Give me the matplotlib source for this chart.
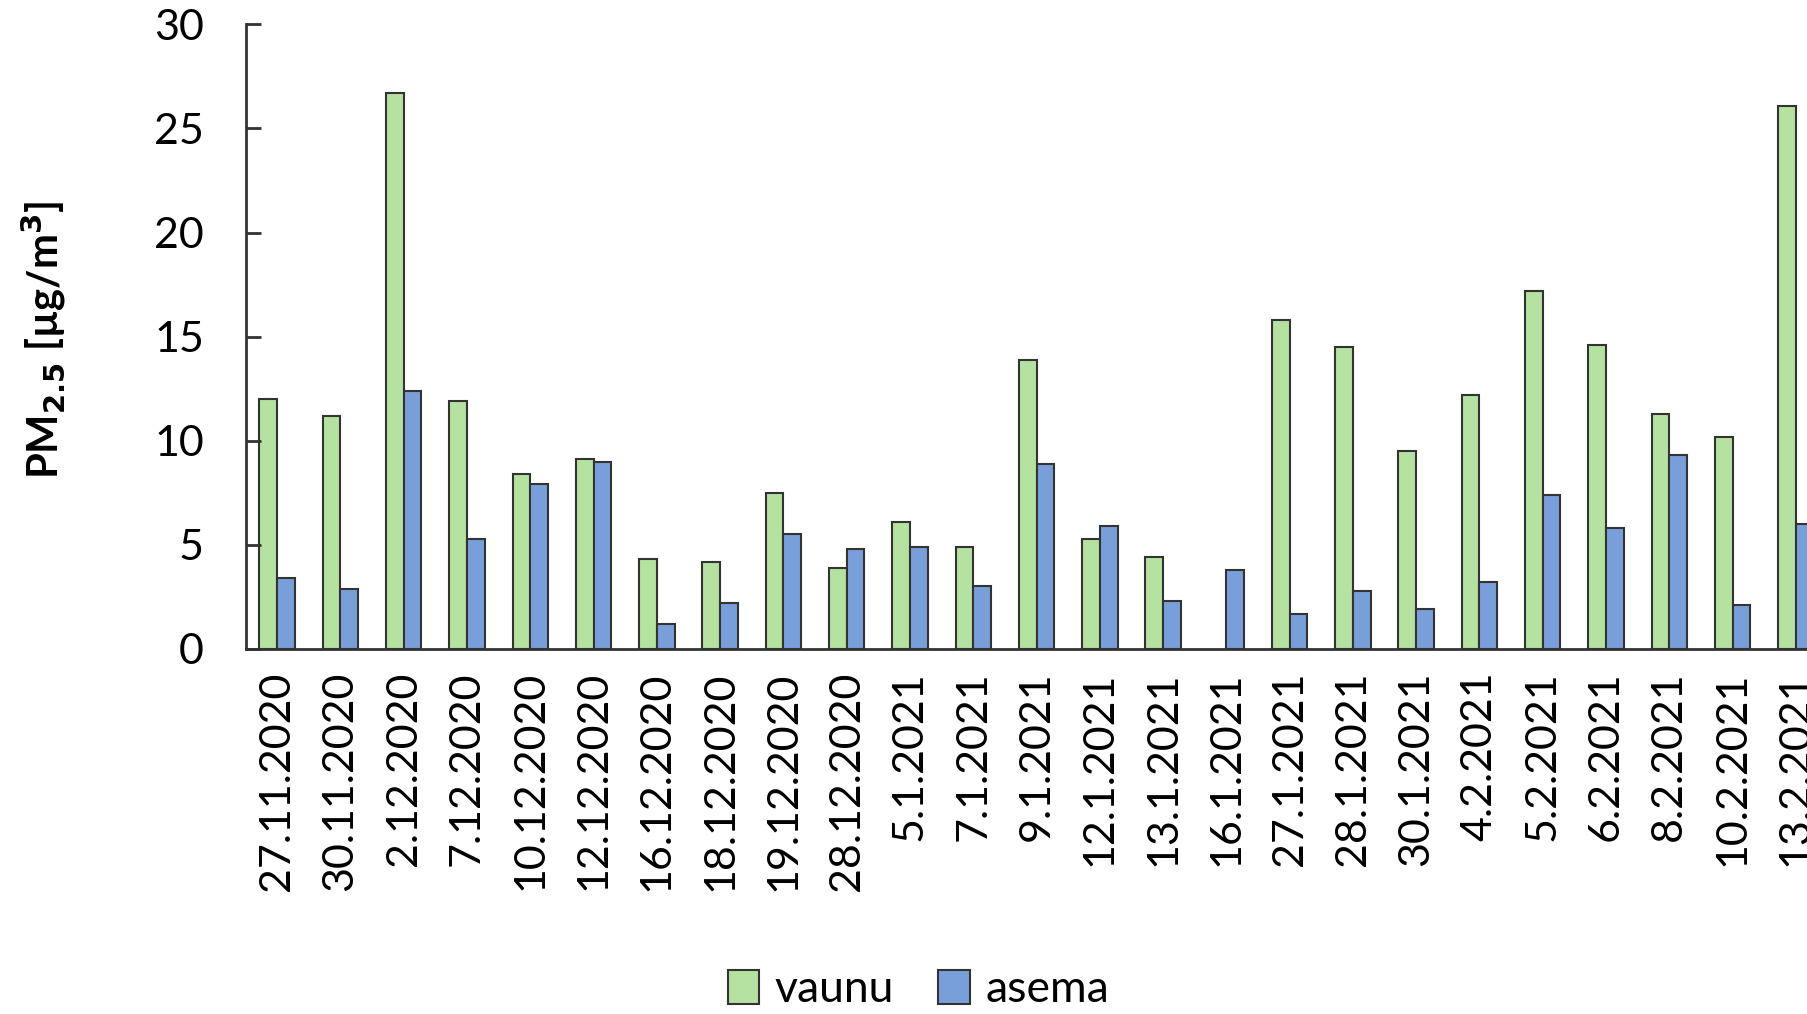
import numpy as np
import matplotlib
matplotlib.use("Agg")
import matplotlib.pyplot as plt
from matplotlib.patches import Patch

dates = ["27.11.2020", "30.11.2020", "2.12.2020", "7.12.2020", "10.12.2020",
         "12.12.2020", "16.12.2020", "18.12.2020", "19.12.2020", "28.12.2020",
         "5.1.2021", "7.1.2021", "9.1.2021", "12.1.2021", "13.1.2021",
         "16.1.2021", "27.1.2021", "28.1.2021", "30.1.2021", "4.2.2021",
         "5.2.2021", "6.2.2021", "8.2.2021", "10.2.2021", "13.2.2021"]
vaunu = [12.0, 11.2, 26.7, 11.9, 8.4, 9.1, 4.3, 4.2, 7.5, 3.9,
         6.1, 4.9, 13.9, 5.3, 4.4, np.nan, 15.8, 14.5, 9.5, 12.2,
         17.2, 14.6, 11.3, 10.2, 26.1]
asema = [3.4, 2.9, 12.4, 5.3, 7.9, 9.0, 1.2, 2.2, 5.5, 4.8,
         4.9, 3.0, 8.9, 5.9, 2.3, 3.8, 1.7, 2.8, 1.9, 3.2,
         7.4, 5.8, 9.3, 2.1, 6.0]

plt.rcParams['font.family'] = ['Lato', 'DejaVu Sans']

fig = plt.figure(figsize=(18.08, 10.14), dpi=100)
ax = fig.add_axes([0.1358, 0.360, 0.875, 0.616])

x = np.arange(len(dates))
w = 0.28
green = '#b6e2a1'
blue = '#789fda'
edge = '#333333'
ax.bar(x - w/2, vaunu, width=w, color=green, edgecolor=edge, linewidth=1.5)
ax.bar(x + w/2, asema, width=w, color=blue, edgecolor=edge, linewidth=1.5)

ax.set_xlim(-0.5, len(dates) - 0.5)
ax.set_ylim(0, 30)
ax.set_yticks([0, 5, 10, 15, 20, 25, 30])
ax.set_xticks(x)
ax.set_xticklabels(dates, rotation=90, fontsize=31)
ax.tick_params(axis='y', direction='in', length=11, width=2, color=edge,
               labelsize=31, pad=30)
ax.tick_params(axis='x', length=0, pad=16)

for s in ['top', 'right']:
    ax.spines[s].set_visible(False)
for s in ['left', 'bottom']:
    ax.spines[s].set_color(edge)
    ax.spines[s].set_linewidth(2)

fig.text(0.024, 0.665, r'PM$_{\mathbf{2.5}}$ [µg/m$^{\mathbf{3}}$]', rotation=90,
         fontsize=30, fontweight='bold', va='center', ha='center')

handles = [Patch(facecolor=green, edgecolor=edge, linewidth=1.5, label='vaunu'),
           Patch(facecolor=blue, edgecolor=edge, linewidth=1.5, label='asema')]
fig.legend(handles=handles, loc='center', bbox_to_anchor=(0.508, 0.024),
           ncol=2, frameon=False, fontsize=32, handlelength=0.7,
           handleheight=0.8, handletextpad=0.35, columnspacing=1.0,
           borderpad=0.1)

fig.savefig('out.png', dpi=100)
